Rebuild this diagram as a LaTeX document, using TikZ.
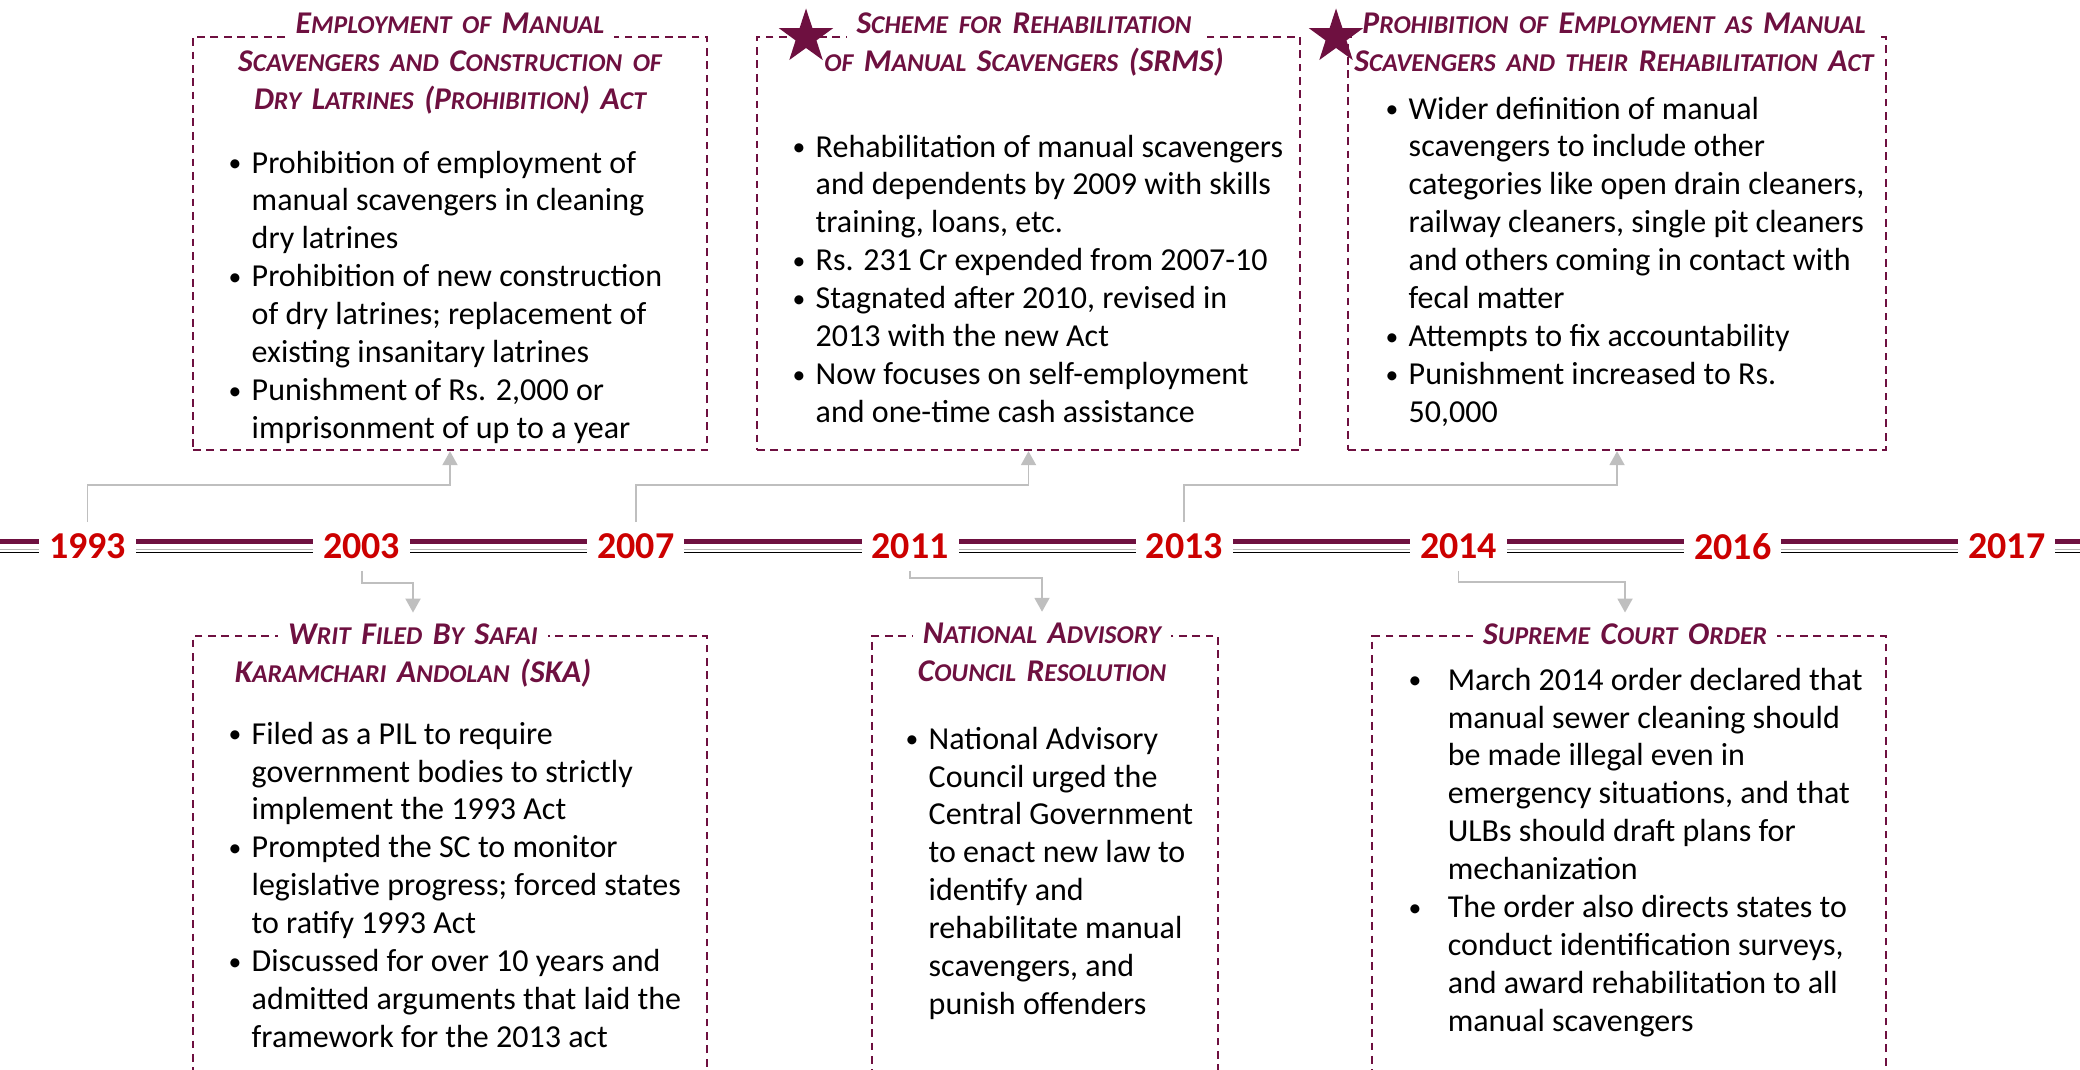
\documentclass[tikz,border=0pt]{standalone}
\usepackage{fontspec}
\setmainfont{Carlito}
\usepackage{tikz}
\usetikzlibrary{shapes.geometric, arrows.meta}

\definecolor{wine}{RGB}{110,16,64}
\definecolor{yearred}{RGB}{204,0,0}
\definecolor{linkgrey}{RGB}{191,191,191}

\setlength{\fboxsep}{0.1cm}
\newcommand{\sm}[1]{{\fontsize{7.3}{10.8}\selectfont #1}}
\newcommand{\bdot}{\raisebox{0.5pt}{\scalebox{0.8}{\textbullet}}}
\newcommand{\blist}[2]{\begin{tabular}[t]{@{}p{#1}@{}l@{}}#2\end{tabular}}

\tikzset{
  boxframe/.style={draw=wine, dash pattern=on 2.2pt off 1.6pt, line width=0.6pt, inner sep=0pt},
  ttl/.style={text=wine, font=\fontsize{9}{10.8}\selectfont\bfseries\itshape, align=center, text width=6cm, inner sep=0pt, anchor=base},
  txt/.style={font=\fontsize{9.1}{10.8}\selectfont, inner sep=0pt, anchor=base west},
  yr/.style={text=yearred, font=\fontsize{10.8}{12}\selectfont\bfseries, fill=white, inner xsep=0.1cm, inner ysep=0.11cm},
  conn/.style={draw=linkgrey, line width=0.55pt, -{Triangle[width=0.15cm,length=0.14cm]}},
  starmark/.style={star, star points=5, star point ratio=2.6, minimum size=0.57cm, inner sep=0pt, fill=wine}
}

\begin{document}
\begin{tikzpicture}[x=0.01cm, y=-0.01cm]

    \useasboundingbox (0,0) rectangle (2080,1069);
    \clip (0,0) rectangle (2080,1069);

    %boxes above the line
    \node [boxframe, minimum width=5.14cm, minimum height=4.13cm] (act93) at (450,243.5) {};
    \node [boxframe, minimum width=5.43cm, minimum height=4.13cm] (srms) at (1028.5,243.5) {};
    \node [boxframe, minimum width=5.38cm, minimum height=4.13cm] (act13) at (1617,243.5) {};

    %boxes below the line
    \node [boxframe, minimum width=5.14cm, minimum height=4.64cm] (writ) at (450,868) {};
    \node [boxframe, minimum width=3.46cm, minimum height=4.64cm] (nac) at (1045,868) {};
    \node [boxframe, minimum width=5.13cm, minimum height=4.64cm] (sco) at (1629,868) {};

    %titles
    \node [ttl] (act93t) at (450,33.5) {\colorbox{white}{E\sm{MPLOYMENT OF} M\sm{ANUAL}}\\
        S\sm{CAVENGERS AND} C\sm{ONSTRUCTION OF}\\
        D\sm{RY} L\sm{ATRINES} (P\sm{ROHIBITION}) A\sm{CT}};
    \node [ttl] (srmst) at (1024,33.5) {\colorbox{white}{S\sm{CHEME FOR} R\sm{EHABILITATION}}\\
        \sm{OF} M\sm{ANUAL} S\sm{CAVENGERS} (SRMS)};
    \node [ttl] (act13t) at (1614,33.5) {\colorbox{white}{P\sm{ROHIBITION OF} E\sm{MPLOYMENT AS} M\sm{ANUAL}}\\
        S\sm{CAVENGERS AND THEIR} R\sm{EHABILITATION} A\sm{CT}};
    \node [ttl] (writt) at (413,644) {\colorbox{white}{W\sm{RIT} F\sm{ILED} B\sm{Y} S\sm{AFAI}}\\
        K\sm{ARAMCHARI} A\sm{NDOLAN} (SKA)};
    \node [ttl] (nact) at (1042,643) {\colorbox{white}{N\sm{ATIONAL} A\sm{DVISORY}}\\
        C\sm{OUNCIL} R\sm{ESOLUTION}};
    \node [ttl] (scot) at (1625,644) {\colorbox{white}{S\sm{UPREME} C\sm{OURT} O\sm{RDER}}};

    \node [starmark] (srmsstar) at (806,37) {};
    \node [starmark] (act13star) at (1336,37) {};

    %timeline
    \draw [wine, line width=0.05cm] (0,541.5) -- (2080,541.5);
    \draw [gray!60, line width=0.35pt] (0,549.5) -- (2080,549.5);
    \draw [black, line width=0.45pt] (0,552.5) -- (2080,552.5);

    \node [yr] (y1993) at (87.5,546.5) {1993};
    \node [yr] (y2003) at (361.7,546.5) {2003};
    \node [yr] (y2007) at (635.9,546.5) {2007};
    \node [yr] (y2011) at (910.1,546.5) {2011};
    \node [yr] (y2013) at (1184.3,546.5) {2013};
    \node [yr] (y2014) at (1458.5,546.5) {2014};
    \node [yr] (y2016) at (1732.7,546.5) {2016};
    \node [yr] (y2017) at (2006.9,546.5) {2017};

    %links
    \draw [conn] (y1993.north) -- ++(0,-37) -| (act93.south);
    \draw [conn] (y2007.north) -- ++(0,-37) -| (srms.south);
    \draw [conn] (y2013.north) -- ++(0,-37) -| (act13.south);
    \draw [conn] (y2003.south) -- ++(0,12) -| (writt.north);
    \draw [conn] (y2011.south) -- ++(0,7) -| (nact.north);
    \draw [conn] (y2014.south) -- ++(0,11) -| (scot.north);

    %bullet text
    \node [txt] (act93txt) at (228,173) {\blist{0.23cm}{%
        \bdot & Prohibition of employment of\\
        & manual scavengers in cleaning\\
        & dry latrines\\
        \bdot & Prohibition of new construction\\
        & of dry latrines; replacement of\\
        & existing insanitary latrines\\
        \bdot & Punishment of Rs. 2,000 or\\
        & imprisonment of up to a year}};
    \node [txt] (srmstxt) at (792,157) {\blist{0.23cm}{%
        \bdot & Rehabilitation of manual scavengers\\
        & and dependents by 2009 with skills\\
        & training, loans, etc.\\
        \bdot & Rs. 231 Cr expended from 2007-10\\
        \bdot & Stagnated after 2010, revised in\\
        & 2013 with the new Act\\
        \bdot & Now focuses on self-employment\\
        & and one-time cash assistance}};
    \node [txt] (act13txt) at (1385,119) {\blist{0.23cm}{%
        \bdot & Wider definition of manual\\
        & scavengers to include other\\
        & categories like open drain cleaners,\\
        & railway cleaners, single pit cleaners\\
        & and others coming in contact with\\
        & fecal matter\\
        \bdot & Attempts to fix accountability\\
        \bdot & Punishment increased to Rs.\\
        & 50,000}};
    \node [txt] (writtxt) at (228,744) {\blist{0.23cm}{%
        \bdot & Filed as a PIL to require\\
        & government bodies to strictly\\
        & implement the 1993 Act\\
        \bdot & Prompted the SC to monitor\\
        & legislative progress; forced states\\
        & to ratify 1993 Act\\
        \bdot & Discussed for over 10 years and\\
        & admitted arguments that laid the\\
        & framework for the 2013 act}};
    \node [txt] (nactxt) at (905,749) {\blist{0.23cm}{%
        \bdot & National Advisory\\
        & Council urged the\\
        & Central Government\\
        & to enact new law to\\
        & identify and\\
        & rehabilitate manual\\
        & scavengers, and\\
        & punish offenders}};
    \node [txt] (scotxt) at (1408,690) {\blist{0.39cm}{%
        \bdot & March 2014 order declared that\\
        & manual sewer cleaning should\\
        & be made illegal even in\\
        & emergency situations, and that\\
        & ULBs should draft plans for\\
        & mechanization\\
        \bdot & The order also directs states to\\
        & conduct identification surveys,\\
        & and award rehabilitation to all\\
        & manual scavengers}};
\end{tikzpicture}
\end{document}
